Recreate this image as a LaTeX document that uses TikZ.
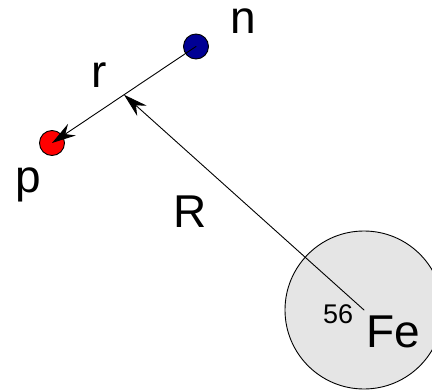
\documentclass[tikz,border=0pt]{standalone}
\usepackage{fontspec}
\setmainfont{Liberation Sans}
\usepackage{tikz}
\usetikzlibrary{arrows.meta}

\begin{document}
\begin{tikzpicture}[x=1pt,y=-1pt,>={Stealth[length=24pt,width=14pt,inset=8pt]},line cap=round,
  particle/.style={circle,draw,line width=0.9pt,minimum size=25pt,inner sep=0pt},
  lbl/.style={anchor=base,inner sep=0pt,text height=0.75em,font=\fontsize{46}{46}\selectfont}]
\useasboundingbox (0,0) rectangle (432,391);
\node[circle,draw,line width=0.9pt,fill=black!10,minimum size=158pt,inner sep=0pt] (fe) at (364,310) {};
\node[particle,fill=red] (p) at (52,143) {};
\node[particle,fill=blue!58!black] (n) at (196,46.5) {};
\draw[->,line width=0.9pt] (n.center) -- (p.center) coordinate[pos=0.5] (mid);
\draw[->,line width=0.9pt] (fe.center) -- (mid);
\node[lbl,text height=0.55em] (nlabel) at (243,33) {n};
\node[lbl] (rlabel) at (99,87) {r};
\node[lbl] (plabel) at (28,192) {p};
\node[lbl] (Rlabel) at (190,227) {R};
\node[anchor=base west,inner sep=0pt,font=\fontsize{27}{27}\selectfont] (mass) at (323,323) {56};
\node[anchor=base west,inner sep=0pt,font=\fontsize{46}{46}\selectfont] (elem) at (366,347) {Fe};
\end{tikzpicture}
\end{document}
